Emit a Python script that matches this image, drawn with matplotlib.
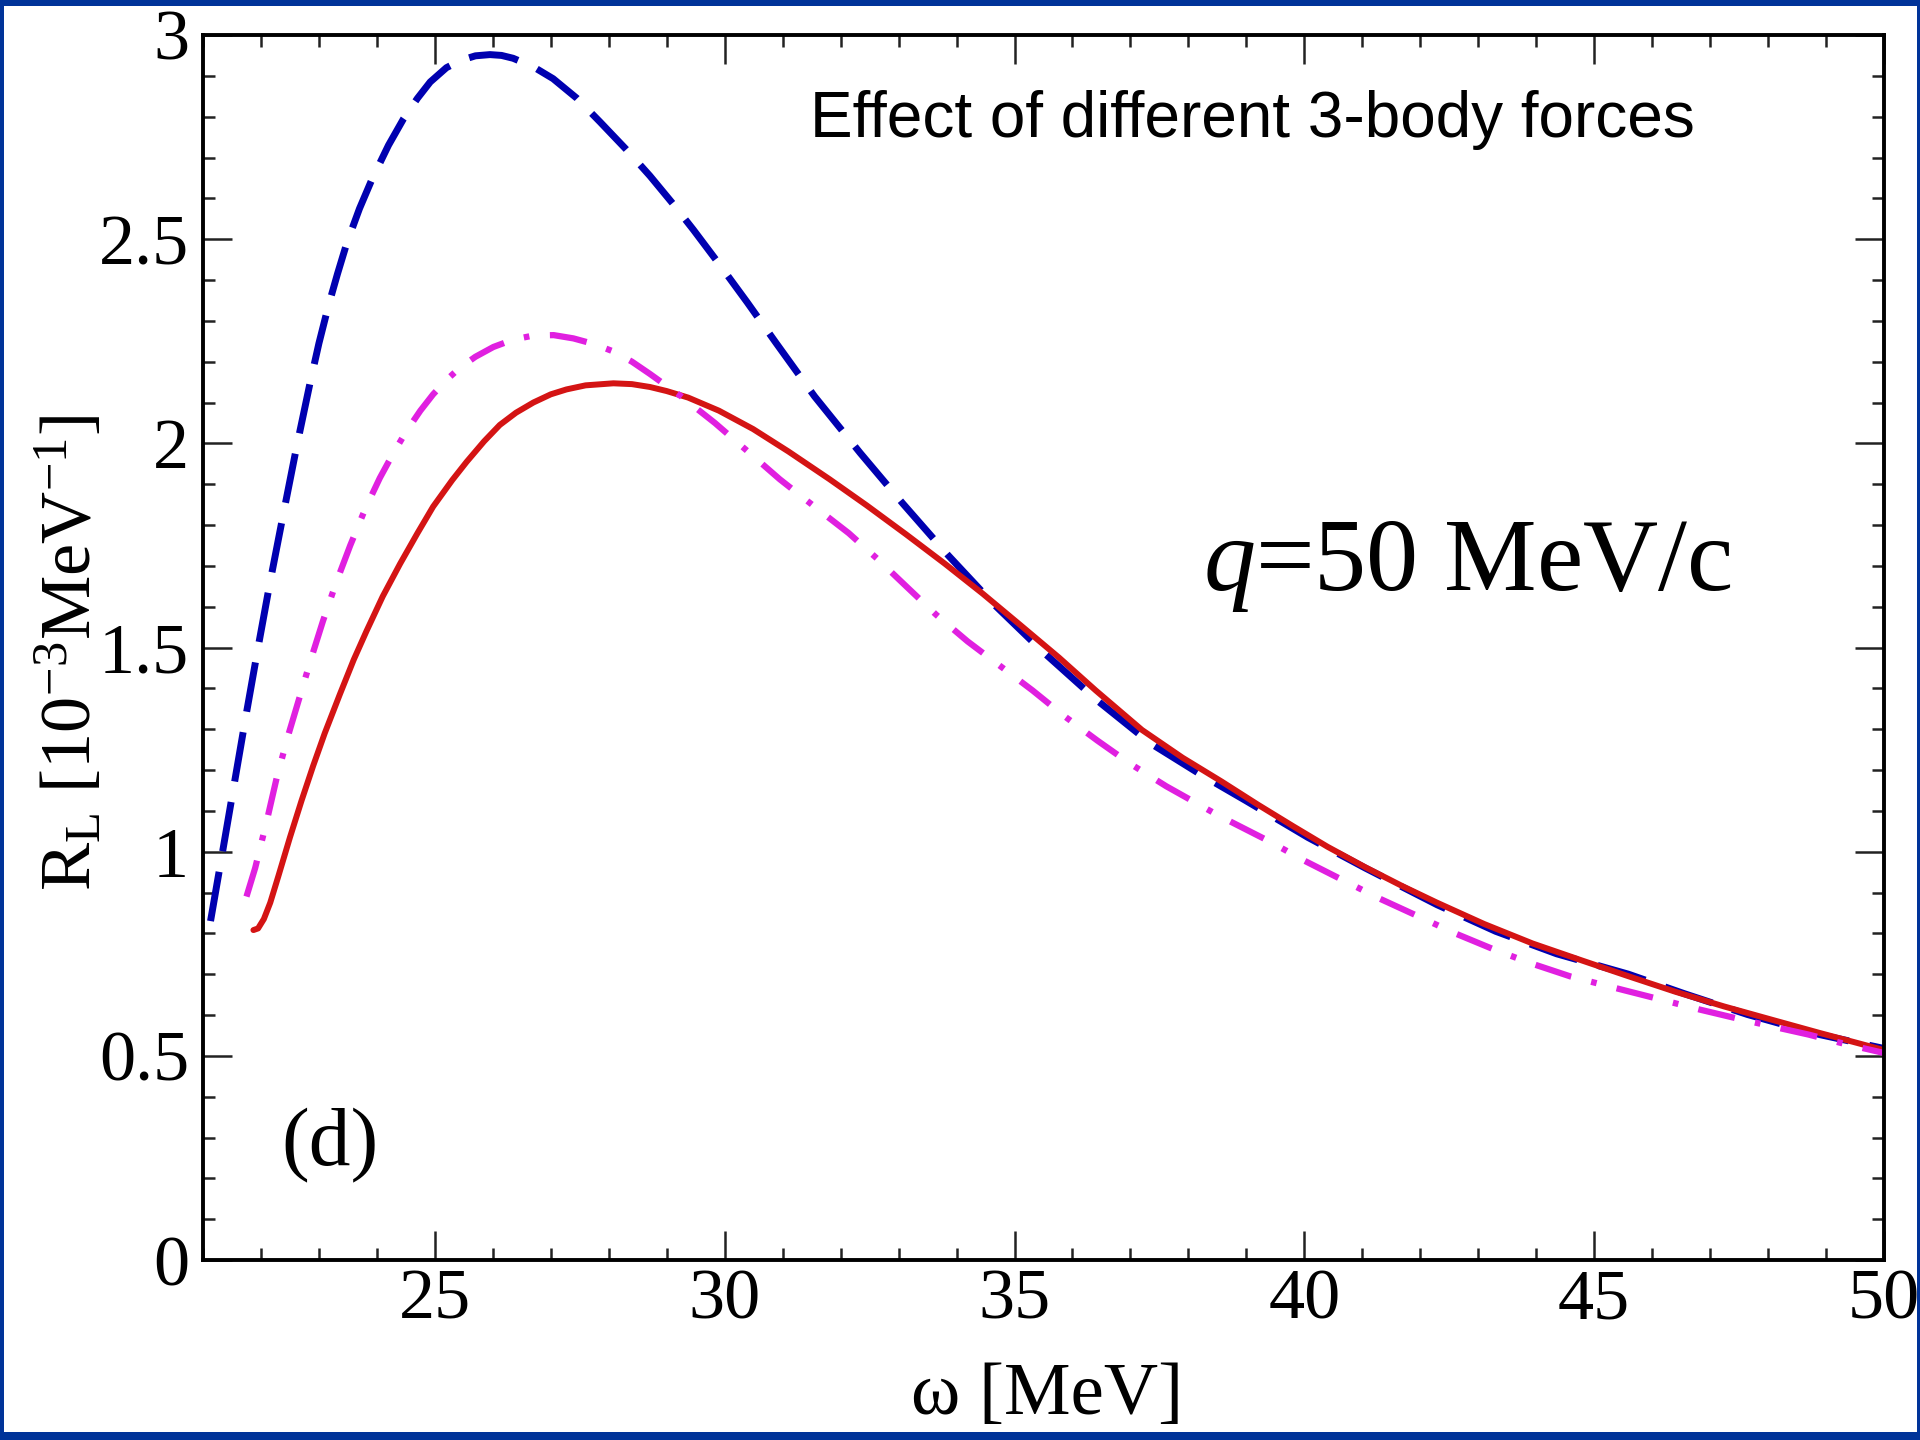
import matplotlib
matplotlib.use("Agg")
import matplotlib.pyplot as plt
from matplotlib.patches import Rectangle
from matplotlib.ticker import MultipleLocator

# values: omega [MeV] vs R_L [1e-3 / MeV]
blue_x = [21.13, 21.35, 21.55, 21.75, 21.95, 22.15, 22.39, 22.62, 22.85, 23.0,
          23.16, 23.32, 23.48, 23.7, 23.91, 24.2, 24.46, 24.7, 24.92, 25.2,
          25.45, 25.7, 25.95, 26.15, 26.35, 26.7, 27.04, 27.45, 27.85, 28.3,
          28.71, 29.1, 29.46, 29.9, 30.39, 30.89, 31.55, 32.34, 33.07, 33.86,
          34.65, 35.51, 36.43, 37.35, 38.2, 38.99, 40.06, 41.05, 42.29, 43.3,
          44.35, 45.59, 46.56, 47.65, 48.89, 50.0]
blue_y = [0.83, 1.01, 1.175, 1.34, 1.50, 1.655, 1.83, 1.995, 2.15, 2.245,
          2.335, 2.415, 2.49, 2.575, 2.645, 2.73, 2.795, 2.845, 2.885, 2.92,
          2.938, 2.949, 2.952, 2.95, 2.943, 2.922, 2.893, 2.845, 2.787, 2.72,
          2.655, 2.588, 2.523, 2.44, 2.345, 2.245, 2.115, 1.976, 1.853, 1.725,
          1.605, 1.487, 1.37, 1.265, 1.19, 1.125, 1.035, 0.96, 0.87, 0.805,
          0.75, 0.70, 0.652, 0.601, 0.552, 0.518]

red_x = [21.87, 21.95, 22.05, 22.16, 22.3, 22.5, 22.7, 22.9, 23.1, 23.36,
         23.6, 23.82, 24.1, 24.4, 24.7, 24.97, 25.3, 25.55, 25.85, 26.12,
         26.4, 26.7, 27.0, 27.27, 27.6, 28.08, 28.4, 28.71, 29.0, 29.37,
         29.9, 30.49, 31.1, 31.81, 32.45, 33.13, 33.8, 34.45, 35.1, 35.77,
         36.4, 37.2, 37.9, 38.57, 39.2, 39.81, 40.4, 41.05, 41.7, 42.29,
         43.1, 43.94, 44.8, 45.59, 46.4, 47.24, 48.1, 48.89, 49.5, 50.0]
red_y = [0.808, 0.812, 0.835, 0.875, 0.94, 1.035, 1.125, 1.21, 1.29, 1.385,
         1.47, 1.54, 1.625, 1.705, 1.78, 1.845, 1.91, 1.955, 2.005, 2.045,
         2.075, 2.10, 2.12, 2.132, 2.142, 2.147, 2.145, 2.138, 2.128, 2.112,
         2.08, 2.035, 1.98, 1.912, 1.848, 1.777, 1.705, 1.632, 1.555, 1.475,
         1.395, 1.298, 1.23, 1.172, 1.115, 1.062, 1.012, 0.962, 0.915, 0.875,
         0.823, 0.775, 0.733, 0.695, 0.657, 0.621, 0.587, 0.556, 0.533, 0.514]

mag_x = [21.75, 21.9, 22.1, 22.27, 22.47, 22.67, 22.87, 23.07, 23.3, 23.54,
         23.8, 24.05, 24.28, 24.51, 24.75, 24.97, 25.2, 25.43, 25.7, 26.01,
         26.35, 26.7, 27.05, 27.39, 27.75, 28.08, 28.4, 28.71, 29.25, 29.83,
         30.4, 30.95, 31.55, 32.14, 32.65, 33.13, 33.65, 34.19, 34.75, 35.31,
         35.85, 36.43, 37.0, 37.62, 38.5, 39.4, 40.0, 40.64, 41.3, 41.96,
         42.6, 43.28, 43.9, 44.6, 45.59, 46.2, 46.83, 47.45, 48.07, 48.7,
         49.3, 50.0]
mag_y = [0.89, 0.96, 1.075, 1.18, 1.285, 1.38, 1.475, 1.565, 1.66, 1.75,
         1.84, 1.915, 1.975, 2.03, 2.08, 2.12, 2.155, 2.185, 2.212, 2.236,
         2.254, 2.264, 2.265, 2.257, 2.243, 2.225, 2.2, 2.17, 2.115, 2.05,
         1.98, 1.912, 1.845, 1.78, 1.715, 1.65, 1.58, 1.515, 1.455, 1.395,
         1.333, 1.272, 1.215, 1.16, 1.09, 1.025, 0.978, 0.932, 0.885, 0.842,
         0.80, 0.76, 0.727, 0.694, 0.658, 0.636, 0.613, 0.592, 0.572, 0.552,
         0.53, 0.507]

x_ticks = [25, 30, 35, 40, 45, 50]
x_labels = ["25", "30", "35", "40", "45", "50"]
y_ticks = [0, 0.5, 1, 1.5, 2, 2.5, 3]
y_labels = ["0", "0.5", "1", "1.5", "2", "2.5", "3"]

plt.rcParams["font.family"] = ["Liberation Serif", "DejaVu Serif"]
plt.rcParams["mathtext.fontset"] = "custom"
plt.rcParams["mathtext.rm"] = "Liberation Serif"
plt.rcParams["mathtext.it"] = "Liberation Serif:italic"

W, H = 1920, 1440
fig = plt.figure(figsize=(W / 100, H / 100), dpi=100, facecolor="#003399")
fig.add_artist(Rectangle((4 / W, 8 / H), 1913 / W, 1426 / H, transform=fig.transFigure,
                         facecolor="white", edgecolor="none", zorder=-1))

L, R, T, B = 203, 1884, 35, 1260
ax = fig.add_axes([L / W, 1 - B / H, (R - L) / W, (B - T) / H])

ax.plot(blue_x, blue_y, color="#0000b0", lw=5, dashes=(7.2, 3.0), dash_capstyle="butt")
ax.plot(red_x, red_y, color="#d41414", lw=4.3, solid_capstyle="round")
ax.plot(mag_x, mag_y, color="#e020e0", lw=4.5, dashes=(6, 3.3, 0.9, 3.3),
        dash_capstyle="butt")

ax.set_xlim(21, 50)
ax.set_ylim(0, 3)
ax.set_xticks(x_ticks)
ax.set_xticklabels(x_labels)
ax.set_yticks(y_ticks)
ax.set_yticklabels(y_labels)
ax.xaxis.set_minor_locator(MultipleLocator(1))
ax.yaxis.set_minor_locator(MultipleLocator(0.1))
ax.tick_params(which="both", direction="in", top=True, right=True, labelsize=52,
               width=1.8, color="#222222")
ax.tick_params(axis="x", which="both", pad=6)
ax.tick_params(axis="y", which="both", pad=10)
ax.tick_params(which="major", length=21)
ax.tick_params(which="minor", length=8.5)
for s in ax.spines.values():
    s.set_linewidth(2.8)

ax.set_ylabel(r"$\mathrm{R_L\ [10^{-3}MeV^{-1}]}$", fontsize=52)
ax.yaxis.set_label_coords((71 - L) / (R - L), (B - 653) / (B - T))
ax.yaxis.label.set_va("center")
ax.set_xlabel("ω [MeV]", fontsize=54)
ax.xaxis.set_label_coords((1047 - L) / (R - L), (B - 1396) / (B - T))
ax.xaxis.label.set_va("center")

ax.text(0.624, 0.9306, "Effect of different 3-body forces", transform=ax.transAxes,
        family="Liberation Sans", fontsize=46, ha="center", va="center")
ax.text(0.752, 0.5665, r"$q$=50 MeV/c", transform=ax.transAxes, fontsize=75,
        ha="center", va="center")
ax.text(0.0755, 0.093, "(d)", transform=ax.transAxes, fontsize=60,
        ha="center", va="center")

fig.savefig("out.png", dpi=100, facecolor=fig.get_facecolor())
